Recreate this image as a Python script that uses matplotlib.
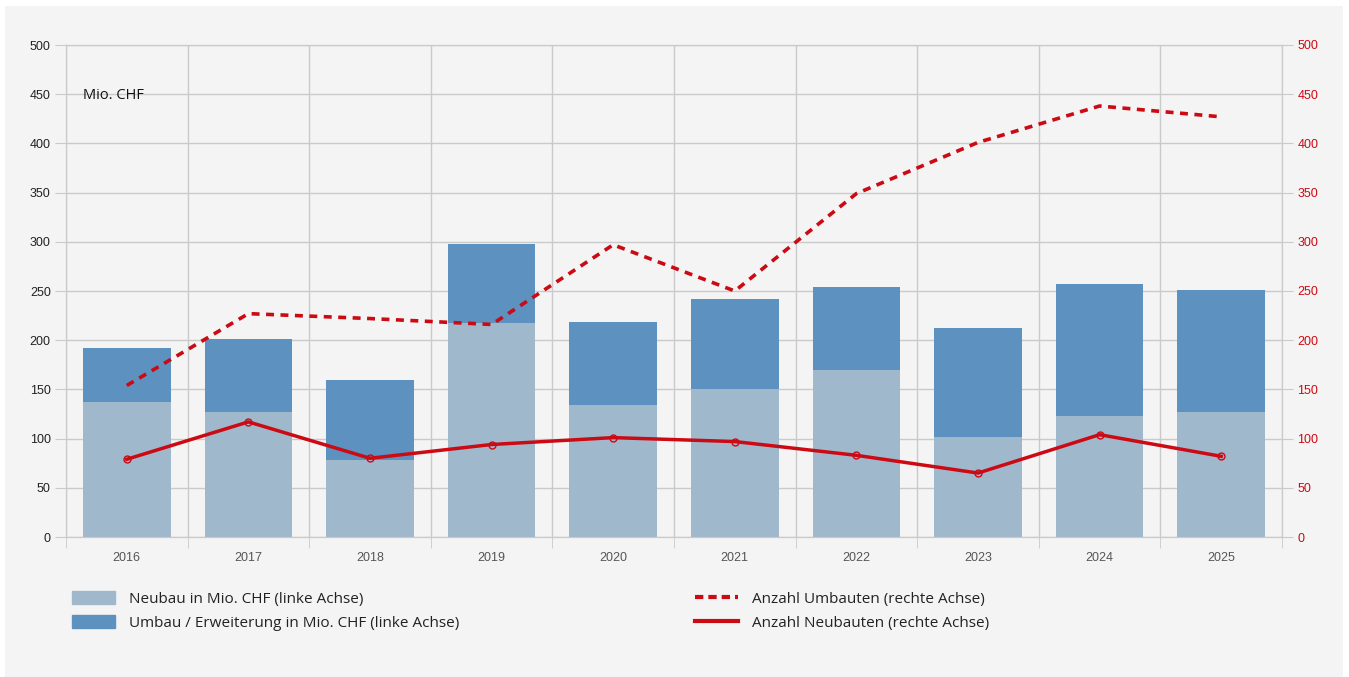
import numpy as np
import matplotlib.pyplot as plt
from matplotlib.patches import Rectangle, Patch
from matplotlib.lines import Line2D

# Data
years = ["2016", "2017", "2018", "2019", "2020", "2021", "2022", "2023", "2024", "2025"]
neubau_chf = [137, 127, 78, 217, 134, 150, 170, 102, 123, 127]
umbau_chf = [55, 74, 82, 81, 85, 92, 84, 110, 134, 124]
anzahl_umbauten = [154, 227, 222, 216, 297, 250, 349, 401, 438, 427]
anzahl_neubauten = [79, 117, 80, 94, 101, 97, 83, 65, 104, 82]

c_neu = "#a0b8cc"
c_umb = "#5d91c0"
c_red = "#cc0a14"
c_grid = "#cacaca"
bg = "#f4f4f4"

W, H = 1349, 677
fig = plt.figure(figsize=(W / 100, H / 100), dpi=100, facecolor="white")
fig.patches.append(Rectangle((5 / W, 0), (1343 - 5) / W, 1 - 6 / H,
                             transform=fig.transFigure, facecolor=bg,
                             edgecolor="none", zorder=-10))

ax = fig.add_axes([66 / W, (H - 537) / H, (1282 - 66) / W, (537 - 45) / H])
ax.set_facecolor(bg)
x = np.arange(len(years))

ax.bar(x, neubau_chf, width=0.72, color=c_neu, zorder=2)
ax.bar(x, umbau_chf, width=0.72, bottom=neubau_chf, color=c_umb, zorder=2)

ax.set_xlim(-0.5, len(years) - 0.5)
ax.set_ylim(0, 500)
ax.set_yticks(range(0, 501, 50))
ax.set_xticks(x)
ax.set_xticklabels(years, family="Liberation Sans")
ax.set_xticks(np.arange(-0.5, len(years)), minor=True)
ax.tick_params(axis="x", which="major", length=0, pad=11, labelsize=9, labelcolor="#555555")
ax.tick_params(axis="x", which="minor", length=8, color=c_grid)
ax.tick_params(axis="y", length=8, color=c_grid, labelsize=9, labelcolor="#222222", pad=3)
for t in ax.get_yticklabels():
    t.set_family("Liberation Sans")
ax.grid(axis="y", color=c_grid, linewidth=1, zorder=0)
ax.grid(axis="x", which="minor", color=c_grid, linewidth=1, zorder=0)
ax.set_axisbelow(True)
for s in ax.spines.values():
    s.set_color(c_grid)

ax.text(0.014, 0.897, "Mio. CHF", transform=ax.transAxes, fontsize=10.5,
        family="Open Sans", color="#111111", va="center", ha="left")

ax2 = ax.twinx()
ax2.set_ylim(0, 500)
ax2.set_yticks(range(0, 501, 50))
ax2.tick_params(axis="y", length=8, color=c_grid, labelsize=9, labelcolor=c_red, pad=3)
for t in ax2.get_yticklabels():
    t.set_family("Liberation Sans")
for s in ax2.spines.values():
    s.set_color(c_grid)
ax2.plot(x, anzahl_umbauten, color=c_red, linewidth=2.6, linestyle=(0, (2.2, 1.8)), zorder=3)
ax2.plot(x, anzahl_neubauten, color=c_red, linewidth=2.5, marker="o", markersize=5,
         markerfacecolor="none", markeredgewidth=1, zorder=3)

# Legends
leg_kw = dict(loc="upper left", frameon=False, handlelength=2.8, handleheight=0.9,
              handletextpad=0.9, labelspacing=0.55, borderaxespad=0, borderpad=0,
              prop={"family": "Open Sans", "size": 11}, labelcolor="#222222")
h1 = [Patch(color=c_neu), Patch(color=c_umb)]
l1 = ["Neubau in Mio. CHF (linke Achse)", "Umbau / Erweiterung in Mio. CHF (linke Achse)"]
fig.legend(h1, l1, bbox_to_anchor=(72 / W, 1 - 591 / H), **leg_kw)
h2 = [Line2D([], [], color=c_red, linewidth=3, linestyle=(0, (2, 1.2))),
      Line2D([], [], color=c_red, linewidth=3)]
l2 = ["Anzahl Umbauten (rechte Achse)", "Anzahl Neubauten (rechte Achse)"]
fig.legend(h2, l2, bbox_to_anchor=(695 / W, 1 - 591 / H), **leg_kw)

fig.savefig("out.png", dpi=100, facecolor=fig.get_facecolor())
